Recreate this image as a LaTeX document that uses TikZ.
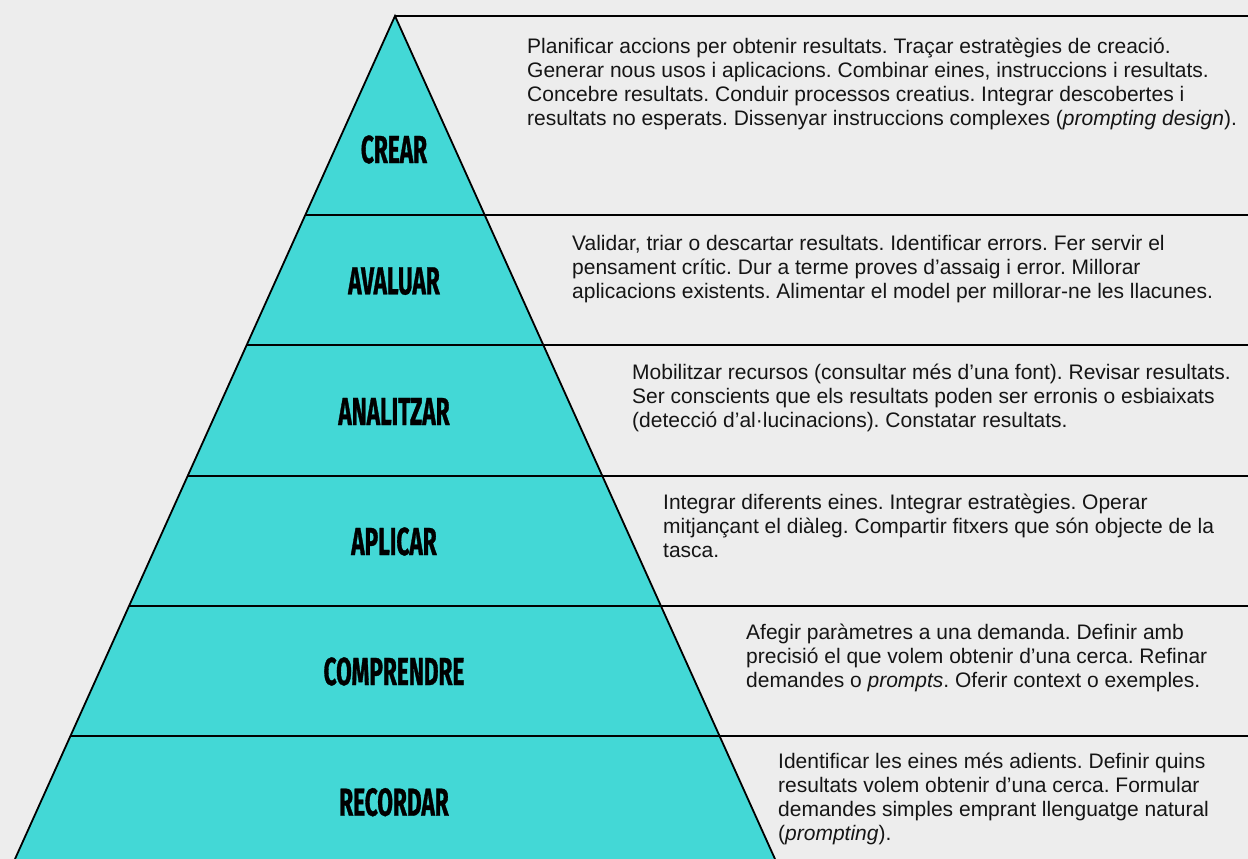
\documentclass[tikz,border=0pt]{standalone}
\usepackage{fontspec}
\setmainfont{Liberation Sans}[FakeStretch=1.0]
\newfontfamily\labelfont{Fira Sans}[FakeStretch=0.58,FakeBold=0.8]
\definecolor{bgcol}{HTML}{EDEDED}
\definecolor{teal}{HTML}{43D8D6}
\definecolor{ink}{HTML}{151515}
\begin{document}
\frenchspacing
\begin{tikzpicture}[x=1pt,y=-1pt,
  edge/.style={line width=1.8pt,black},
  band/.style={line width=1.8pt,black},
  level/.style={font=\labelfont\bfseries\fontsize{39}{39}\selectfont,text=black,inner sep=0pt,anchor=base},
  desc/.style={font=\frenchspacing\fontsize{21}{24}\selectfont,text=ink,inner sep=0pt,anchor=north west,align=left}]
\useasboundingbox (0,0) rectangle (1248,859);
\fill[bgcol] (0,0) rectangle (1248,859);
% pyramid corners
\coordinate (apex) at (395,16);
\coordinate (bl) at (15,859);
\coordinate (br) at (775,859);
\fill[teal] (apex) -- (br) -- (bl) -- cycle;
% band boundaries (left edge point, right image edge)
\coordinate (l1) at (305.3,215); \coordinate (r1) at (1248,215);
\coordinate (l2) at (246.7,345); \coordinate (r2) at (1248,345);
\coordinate (l3) at (187.6,476); \coordinate (r3) at (1248,476);
\coordinate (l4) at (129,606);   \coordinate (r4) at (1248,606);
\coordinate (l5) at (70.4,736);  \coordinate (r5) at (1248,736);
\coordinate (r0) at (1248,16);
\draw[band] (apex) -- (r0);
\draw[band] (l1) -- (r1);
\draw[band] (l2) -- (r2);
\draw[band] (l3) -- (r3);
\draw[band] (l4) -- (r4);
\draw[band] (l5) -- (r5);
\draw[edge] (bl) -- (apex) -- (br);
% level labels
\node[level] (crear) at (394,163) {CREAR};
\node[level] (avaluar) at (394,294.3) {AVALUAR};
\node[level] (analitzar) at (394,425) {ANALITZAR};
\node[level] (aplicar) at (394,555) {APLICAR};
\node[level] (comprendre) at (394,685) {COMPRENDRE};
\node[level] (recordar) at (394,815.7) {RECORDAR};
% descriptions
\node[desc] (dcrear) at (527,38) {Planificar accions per obtenir resultats. Traçar estratègies de creació.\\
Generar nous usos i aplicacions. Combinar eines, instruccions i resultats.\\
Concebre resultats. Conduir processos creatius. Integrar descobertes i\\
resultats no esperats. Dissenyar instruccions complexes (\textit{prompting design}).};
\node[desc] (davaluar) at (572,235) {Validar, triar o descartar resultats. Identificar errors. Fer servir el\\
pensament crític. Dur a terme proves d’assaig i error. Millorar\\
aplicacions existents. Alimentar el model per millorar-ne les llacunes.};
\node[desc] (danalitzar) at (632,364) {Mobilitzar recursos (consultar més d’una font). Revisar resultats.\\
Ser conscients que els resultats poden ser erronis o esbiaixats\\
(detecció d’al·lucinacions). Constatar resultats.};
\node[desc] (daplicar) at (663,494) {Integrar diferents eines. Integrar estratègies. Operar\\
mitjançant el diàleg. Compartir fitxers que són objecte de la\\
tasca.};
\node[desc] (dcomprendre) at (746,624) {Afegir paràmetres a una demanda. Definir amb\\
precisió el que volem obtenir d’una cerca. Refinar\\
demandes o \textit{prompts}. Oferir context o exemples.};
\node[desc] (drecordar) at (778,753) {Identificar les eines més adients. Definir quins\\
resultats volem obtenir d’una cerca. Formular\\
demandes simples emprant llenguatge natural\\
(\textit{prompting}).};
\end{tikzpicture}
\end{document}
